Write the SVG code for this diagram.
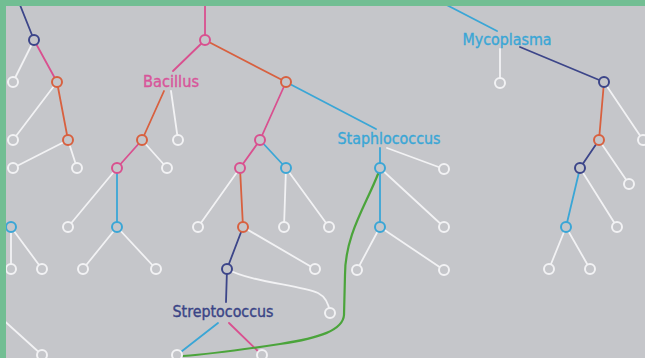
<svg xmlns="http://www.w3.org/2000/svg" width="645" height="358" viewBox="0 0 645 358">
  <style>
    .e { fill: none; stroke-width: 1.8; stroke-linecap: round; }
    .w { stroke: #f2f2f4; }
    .p { stroke: #d9508f; }
    .o { stroke: #d8603f; }
    .b { stroke: #3aa6d6; }
    .d { stroke: #3c4589; }
    .g { stroke: #4ba43b; stroke-width: 2.2; }
    .n { fill: #c5c6ca; stroke-width: 2; }
    .nw { stroke: #f2f2f4; }
    .np { stroke: #d9508f; }
    .no { stroke: #d8603f; }
    .nb { stroke: #3aa6d6; }
    .nd { stroke: #3c4589; }
    .t { font-family: "DejaVu Sans Condensed", "Liberation Sans Narrow", "Liberation Sans", sans-serif; font-size: 15.5px; text-anchor: middle; stroke-width: 0.35; }
  </style>
  <rect x="0" y="0" width="645" height="358" fill="#c5c6ca"/>

  <g id="connectors">
    <!-- left tree -->
    <line class="e d" x1="18" y1="0" x2="34" y2="40"/>
    <line class="e w" x1="34" y1="40" x2="13" y2="82"/>
    <line class="e p" x1="34" y1="40" x2="57" y2="82"/>
    <line class="e w" x1="57" y1="82" x2="13" y2="140"/>
    <line class="e o" x1="57" y1="82" x2="68" y2="140"/>
    <line class="e w" x1="68" y1="140" x2="13" y2="168"/>
    <line class="e w" x1="68" y1="140" x2="77" y2="168"/>
    <line class="e w" x1="11" y1="227" x2="11" y2="269"/>
    <line class="e w" x1="11" y1="227" x2="42" y2="269"/>
    <line class="e w" x1="0" y1="317" x2="42" y2="355"/>

    <!-- Bacillus branch -->
    <line class="e p" x1="205" y1="0" x2="205" y2="40"/>
    <line class="e o" x1="205" y1="40" x2="286" y2="82"/>
    <line class="e p" x1="205" y1="40" x2="173" y2="71"/>
    <line class="e o" x1="164" y1="91" x2="142" y2="140"/>
    <line class="e w" x1="171" y1="91" x2="178" y2="140"/>
    <line class="e p" x1="142" y1="140" x2="117" y2="168"/>
    <line class="e w" x1="142" y1="140" x2="167" y2="168"/>
    <line class="e b" x1="117" y1="168" x2="117" y2="227"/>
    <line class="e w" x1="117" y1="168" x2="68" y2="227"/>
    <line class="e w" x1="117" y1="227" x2="83" y2="269"/>
    <line class="e w" x1="117" y1="227" x2="156" y2="269"/>

    <!-- middle branch -->
    <line class="e b" x1="286" y1="82" x2="376" y2="129"/>
    <line class="e p" x1="286" y1="82" x2="260" y2="140"/>
    <line class="e p" x1="260" y1="140" x2="240" y2="168"/>
    <line class="e b" x1="260" y1="140" x2="286" y2="168"/>
    <line class="e w" x1="240" y1="168" x2="198" y2="227"/>
    <line class="e o" x1="240" y1="168" x2="243" y2="227"/>
    <line class="e w" x1="286" y1="168" x2="284" y2="227"/>
    <line class="e w" x1="286" y1="168" x2="329" y2="227"/>
    <line class="e d" x1="243" y1="227" x2="227" y2="269"/>
    <line class="e w" x1="243" y1="227" x2="315" y2="269"/>
    <path class="e w" d="M227,269 C250,282 300,285 318,293 C326,297 329,305 330,313"/>
    <line class="e d" x1="227" y1="269" x2="226" y2="302"/>
    <line class="e b" x1="218" y1="323" x2="177" y2="355"/>
    <line class="e p" x1="229" y1="323" x2="262" y2="355"/>

    <!-- Staphlococcus branch -->
    <line class="e b" x1="380" y1="148" x2="380" y2="168"/>
    <line class="e w" x1="387" y1="148" x2="444" y2="169"/>
    <line class="e b" x1="380" y1="168" x2="380" y2="227"/>
    <line class="e w" x1="380" y1="168" x2="444" y2="227"/>
    <line class="e w" x1="380" y1="227" x2="357" y2="270"/>
    <line class="e w" x1="380" y1="227" x2="444" y2="270"/>

    <!-- Mycoplasma branch -->
    <line class="e b" x1="437" y1="0" x2="497" y2="31"/>
    <line class="e w" x1="500" y1="49" x2="500" y2="83"/>
    <line class="e d" x1="520" y1="47" x2="604" y2="82"/>
    <line class="e w" x1="604" y1="82" x2="643" y2="140"/>
    <line class="e o" x1="604" y1="82" x2="599" y2="140"/>
    <line class="e d" x1="599" y1="140" x2="580" y2="168"/>
    <line class="e w" x1="599" y1="140" x2="629" y2="184"/>
    <line class="e b" x1="580" y1="168" x2="566" y2="227"/>
    <line class="e w" x1="580" y1="168" x2="617" y2="227"/>
    <line class="e w" x1="566" y1="227" x2="549" y2="269"/>
    <line class="e w" x1="566" y1="227" x2="590" y2="269"/>

    <!-- cross link -->
    <path class="e g" d="M378,174 C366,205 345,235 345,275 L344,315 C343,330 320,338 280,344 C240,350 210,354 183,356"/>
  </g>

  <!-- left tree nodes -->
  <g id="n-left-a"><circle class="n nd" cx="34" cy="40" r="5"/></g>
  <g id="n-left-b"><circle class="n no" cx="57" cy="82" r="5"/></g>
  <g id="n-left-c"><circle class="n no" cx="68" cy="140" r="5"/></g>
  <g id="n-left-leaf1"><circle class="n nw" cx="13" cy="82" r="5"/></g>
  <g id="n-left-leaf2"><circle class="n nw" cx="13" cy="140" r="5"/></g>
  <g id="n-left-leaf3"><circle class="n nw" cx="13" cy="168" r="5"/></g>
  <g id="n-left-leaf4"><circle class="n nw" cx="77" cy="168" r="5"/></g>
  <g id="n-left-d"><circle class="n nb" cx="11" cy="227" r="5"/></g>
  <g id="n-left-leaf5"><circle class="n nw" cx="11" cy="269" r="5"/></g>
  <g id="n-left-leaf6"><circle class="n nw" cx="42" cy="269" r="5"/></g>
  <g id="n-left-leaf7"><circle class="n nw" cx="42" cy="355" r="5"/></g>

  <!-- Bacillus nodes -->
  <g id="n-root"><circle class="n np" cx="205" cy="40" r="5"/></g>
  <g id="n-bacillus"><text class="t" x="171" y="87" fill="#d8559a" stroke="#d8559a" textLength="56" lengthAdjust="spacingAndGlyphs">Bacillus</text></g>
  <g id="n-bac-a"><circle class="n no" cx="142" cy="140" r="5"/></g>
  <g id="n-bac-b"><circle class="n np" cx="117" cy="168" r="5"/></g>
  <g id="n-bac-c"><circle class="n nb" cx="117" cy="227" r="5"/></g>
  <g id="n-bac-leaf1"><circle class="n nw" cx="178" cy="140" r="5"/></g>
  <g id="n-bac-leaf2"><circle class="n nw" cx="167" cy="168" r="5"/></g>
  <g id="n-bac-leaf3"><circle class="n nw" cx="68" cy="227" r="5"/></g>
  <g id="n-bac-leaf4"><circle class="n nw" cx="83" cy="269" r="5"/></g>
  <g id="n-bac-leaf5"><circle class="n nw" cx="156" cy="269" r="5"/></g>

  <!-- middle nodes -->
  <g id="n-mid-a"><circle class="n no" cx="286" cy="82" r="5"/></g>
  <g id="n-mid-b"><circle class="n np" cx="260" cy="140" r="5"/></g>
  <g id="n-mid-c"><circle class="n np" cx="240" cy="168" r="5"/></g>
  <g id="n-mid-d"><circle class="n nb" cx="286" cy="168" r="5"/></g>
  <g id="n-mid-e"><circle class="n no" cx="243" cy="227" r="5"/></g>
  <g id="n-mid-f"><circle class="n nd" cx="227" cy="269" r="5"/></g>
  <g id="n-mid-leaf1"><circle class="n nw" cx="198" cy="227" r="5"/></g>
  <g id="n-mid-leaf2"><circle class="n nw" cx="284" cy="227" r="5"/></g>
  <g id="n-mid-leaf3"><circle class="n nw" cx="329" cy="227" r="5"/></g>
  <g id="n-mid-leaf4"><circle class="n nw" cx="315" cy="269" r="5"/></g>
  <g id="n-mid-leaf5"><circle class="n nw" cx="330" cy="313" r="5"/></g>
  <g id="n-streptococcus"><text class="t" x="223" y="317" fill="#3a4486" stroke="#3a4486" textLength="101" lengthAdjust="spacingAndGlyphs">Streptococcus</text></g>
  <g id="n-strep-leaf1"><circle class="n nw" cx="177" cy="355" r="5"/></g>
  <g id="n-strep-leaf2"><circle class="n nw" cx="262" cy="355" r="5"/></g>

  <!-- Staphlococcus nodes -->
  <g id="n-staphlococcus"><text class="t" x="389" y="144" fill="#3aa6d6" stroke="#3aa6d6" textLength="103" lengthAdjust="spacingAndGlyphs">Staphlococcus</text></g>
  <g id="n-sta-a"><circle class="n nb" cx="380" cy="168" r="5"/></g>
  <g id="n-sta-b"><circle class="n nb" cx="380" cy="227" r="5"/></g>
  <g id="n-sta-leaf1"><circle class="n nw" cx="444" cy="169" r="5"/></g>
  <g id="n-sta-leaf2"><circle class="n nw" cx="444" cy="227" r="5"/></g>
  <g id="n-sta-leaf3"><circle class="n nw" cx="357" cy="270" r="5"/></g>
  <g id="n-sta-leaf4"><circle class="n nw" cx="444" cy="270" r="5"/></g>

  <!-- Mycoplasma nodes -->
  <g id="n-mycoplasma"><text class="t" x="507" y="45" fill="#3aa6d6" stroke="#3aa6d6" textLength="89" lengthAdjust="spacingAndGlyphs">Mycoplasma</text></g>
  <g id="n-myc-leaf1"><circle class="n nw" cx="500" cy="83" r="5"/></g>
  <g id="n-myc-a"><circle class="n nd" cx="604" cy="82" r="5"/></g>
  <g id="n-myc-b"><circle class="n no" cx="599" cy="140" r="5"/></g>
  <g id="n-myc-c"><circle class="n nd" cx="580" cy="168" r="5"/></g>
  <g id="n-myc-d"><circle class="n nb" cx="566" cy="227" r="5"/></g>
  <g id="n-myc-leaf2"><circle class="n nw" cx="643" cy="140" r="5"/></g>
  <g id="n-myc-leaf3"><circle class="n nw" cx="629" cy="184" r="5"/></g>
  <g id="n-myc-leaf4"><circle class="n nw" cx="617" cy="227" r="5"/></g>
  <g id="n-myc-leaf5"><circle class="n nw" cx="549" cy="269" r="5"/></g>
  <g id="n-myc-leaf6"><circle class="n nw" cx="590" cy="269" r="5"/></g>

  <!-- frame -->
  <rect x="0" y="0" width="645" height="6" fill="#72be93"/>
  <rect x="0" y="0" width="6" height="358" fill="#72be93"/>
</svg>
